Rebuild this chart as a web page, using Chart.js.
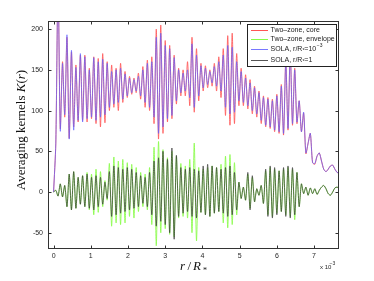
<!DOCTYPE html>
<html><head><meta charset="utf-8">
<script src="https://cdn.jsdelivr.net/npm/chart.js@4.4.1/dist/chart.umd.min.js"></script>
<style>html,body{margin:0;padding:0;background:#fff;overflow:hidden}canvas{display:block}</style>
</head><body>
<canvas id="c" width="374" height="281"></canvas>
<script>
// radius grid r/R* (x 10^-3)
const r = [0,0.06,0.12,0.18,0.24,0.30,0.36,0.42,0.48,0.54,
0.60,0.66,0.72,0.78,0.84,0.90,0.96,1.02,1.08,1.14,
1.20,1.26,1.32,1.38,1.44,1.50,1.56,1.62,1.68,1.74,
1.80,1.86,1.92,1.98,2.04,2.10,2.16,2.22,2.28,2.34,
2.40,2.46,2.52,2.58,2.64,2.70,2.76,2.82,2.88,2.94,
3.00,3.06,3.12,3.18,3.24,3.30,3.36,3.42,3.48,3.54,
3.60,3.66,3.72,3.78,3.84,3.90,3.96,4.02,4.08,4.14,
4.20,4.26,4.32,4.38,4.44,4.50,4.56,4.62,4.68,4.74,
4.80,4.86,4.92,4.98,5.04,5.10,5.16,5.22,5.28,5.34,
5.40,5.46,5.52,5.58,5.64,5.70,5.76,5.82,5.88,5.94,
6.00,6.06,6.12,6.18,6.24,6.30,6.36,6.42,6.48,6.54,
6.60,6.66,6.72,6.78,6.84,6.90,6.96,7.02,7.08,7.14,
7.20,7.26,7.32,7.38,7.44,7.50,7.56,7.62,7.68];

const twoZoneCore = [0,60,260,78,160,92,190,66,172,80,
156,86,168,88,168,86,152,90,166,84,
164,80,170,85,160,100,156,104,152,100,
158,110,148,116,142,120,140,122,146,114,
154,104,162,100,166,84,200,65,205,72,
186,86,180,90,168,108,152,118,150,118,
160,106,190,98,176,112,158,124,155,128,
150,130,158,124,166,116,176,94,192,82,
195,84,170,106,152,106,144,102,138,96,
130,92,124,84,118,80,116,78,114,74,
120,72,132,70,162,76,174,82,152,84,
112,74,97,47,60,72,36,34,44,48,
38,28,25,28,32,33,28,24,23];

const twoZoneEnvelope = [0,2,-5,10,-6,8,-18,22,-22,25,
-20,18,-15,20,-18,24,-22,22,-28,28,
-25,25,-18,14,-10,35,-42,43,-38,38,
-40,40,-38,36,-30,34,-32,30,-24,24,
-18,22,-22,30,-40,55,-66,62,-50,52,
-45,42,-52,50,-55,44,-32,35,-30,32,
-32,40,-50,60,-60,30,-25,28,-28,30,
-30,32,-26,30,-24,34,-38,44,-44,46,
-40,36,-28,12,-8,6,-10,22,-20,18,
-12,4,-4,8,-14,26,-28,30,-30,28,
-26,26,-24,28,-28,30,-30,28,-34,24,
-18,10,-2,6,-4,5,-2,4,-3,2,
6,8,4,-2,-4,0,5,6,4];

const solaCore = [0,60,260,75,158,95,193,65,174,76,
153,88,170,86,166,90,150,92,165,88,
160,92,163,95,158,104,148,108,150,110,
152,114,145,118,140,122,138,124,142,118,
150,110,158,104,160,92,190,72,195,80,
180,90,176,94,165,112,150,122,146,124,
150,116,182,104,168,118,155,128,152,132,
148,134,154,130,160,124,168,104,180,96,
178,98,160,112,148,110,140,106,134,100,
128,96,122,88,116,82,114,80,112,76,
118,74,130,72,160,78,172,84,150,86,
112,74,98,48,60,72,36,35,44,48,
38,28,25,28,32,33,28,24,23];

const solaSurface = [0,2,-5,10,-6,8,-18,22,-22,25,
-20,18,-15,20,-18,22,-20,18,-22,20,
-18,18,-15,12,-8,25,-30,32,-28,30,
-26,28,-24,30,-22,28,-20,24,-18,20,
-14,18,-18,24,-28,38,-42,42,-36,50,
-40,40,-50,54,-58,45,-30,30,-26,28,
-24,30,-30,28,-32,26,-25,32,-28,34,
-30,32,-26,30,-24,28,-26,30,-30,32,
-28,24,-22,12,-8,6,-10,24,-22,20,
-12,4,-4,8,-14,28,-30,32,-32,30,
-28,26,-24,30,-30,32,-32,30,-28,24,
-18,10,-2,6,-4,5,-2,4,-3,2,
6,8,4,-2,-4,0,5,6,4];

const xTicks = [0,1,2,3,4,5,6,7];
const yTicks = [-50,0,50,100,150,200];
const legendLabels = ['Two\u2013zone, core','Two\u2013zone, envelope','SOLA, r/R','SOLA, r/R'];

const cRed = 'rgb(255,85,85)';
const cGreen = 'rgb(135,252,70)';
const cBlue = 'rgba(95,95,255,0.85)';
const cBlack = 'rgba(55,55,55,0.85)';

function pts(arr){ return r.map((v,i)=>({x:v,y:arr[i]})); }

function line(ctx,x1,y1,x2,y2){ctx.beginPath();ctx.moveTo(x1,y1);ctx.lineTo(x2,y2);ctx.stroke();}

const deco = {
  id:'deco',
  afterDraw(chart){
    const ctx = chart.ctx, a = chart.chartArea, xs = chart.scales.x, ys = chart.scales.y;
    ctx.save();
    ctx.strokeStyle = '#333'; ctx.lineWidth = 1;
    const L = Math.round(a.left)+0.5, T = Math.round(a.top)+0.5, R = Math.round(a.right)-0.5, B = Math.round(a.bottom)-0.5;
    ctx.strokeRect(L,T,R-L,B-T);
    xTicks.forEach(v=>{const p=Math.round(xs.getPixelForValue(v))+0.5; line(ctx,p,B,p,B-3); line(ctx,p,T,p,T+3);});
    yTicks.forEach(v=>{const p=Math.round(ys.getPixelForValue(v))+0.5; line(ctx,L,p,L+3,p); line(ctx,R,p,R-3,p);});

    // legend
    const lx=247.5, ly=24.5, lw=89, lh=42;
    ctx.fillStyle='#fff'; ctx.fillRect(lx,ly,lw,lh);
    ctx.strokeStyle='#222'; ctx.strokeRect(lx,ly,lw,lh);
    const rows=[30,38.5,48.5,59.5], cols=[cRed,cGreen,cBlue,cBlack];
    ctx.textBaseline='middle'; ctx.textAlign='left';
    const fs='7px "Liberation Sans"', fss='5px "Liberation Sans"';
    rows.forEach((yy,i)=>{
      ctx.strokeStyle=cols[i]; ctx.lineWidth=1;
      line(ctx,251,Math.round(yy)+0.5,268,Math.round(yy)+0.5);
      ctx.fillStyle='#222';
      ctx.font=fs;
      let tx=270.5;
      ctx.fillText(legendLabels[i],tx,yy+0.5);
      if(i>=2){
        tx+=ctx.measureText(legendLabels[i]).width;
        ctx.font=fss;
        ctx.fillText('*',tx,yy+2.5); tx+=ctx.measureText('*').width;
        ctx.font=fs;
        const s = i===2 ? '=10' : '=1';
        ctx.fillText(s,tx,yy+0.5); tx+=ctx.measureText(s).width;
        if(i===2){ ctx.font=fss; ctx.fillText('\u22123',tx+0.5,yy-3); }
      }
    });

    // axis titles
    ctx.fillStyle='#111';
    ctx.save();
    ctx.translate(25,130); ctx.rotate(-Math.PI/2);
    ctx.textBaseline='alphabetic';
    const up='13px "Liberation Serif"', it='italic 13px "Liberation Serif"';
    const parts=[['Averaging kernels ',up],['K',it],['(',up],['r',it],[')',up]];
    let tot=0; parts.forEach(p=>{ctx.font=p[1]; p.push(ctx.measureText(p[0]).width); tot+=p[2];});
    let sx=-tot/2;
    parts.forEach(p=>{ctx.font=p[1]; ctx.fillText(p[0],sx,0); sx+=p[2];});
    ctx.restore();

    ctx.textBaseline='alphabetic';
    ctx.font='italic 13px "Liberation Serif"';
    ctx.fillText('r',180,270);
    ctx.font='13px "Liberation Serif"';
    ctx.fillText('/',187.5,270);
    ctx.font='italic 13px "Liberation Serif"';
    ctx.fillText('R',193,270);
    ctx.font='8px "Liberation Serif"';
    ctx.fillText('*',203,273);

    ctx.fillStyle='#262626';
    ctx.font='6px "Liberation Sans"';
    ctx.fillText('x 10',320,269);
    ctx.font='5px "Liberation Sans"';
    ctx.fillText('\u22123',329.5,265);
    ctx.restore();
  }
};

new Chart(document.getElementById('c'),{
  type:'line',
  data:{datasets:[
    {label:legendLabels[0],data:pts(twoZoneCore),borderColor:cRed,order:4},
    {label:legendLabels[1],data:pts(twoZoneEnvelope),borderColor:cGreen,order:3},
    {label:legendLabels[2],data:pts(solaCore),borderColor:cBlue,order:2},
    {label:legendLabels[3],data:pts(solaSurface),borderColor:cBlack,order:1}
  ]},
  options:{
    responsive:false, animation:false, devicePixelRatio:1,
    elements:{point:{radius:0},line:{borderWidth:0.85,tension:0.25}},
    layout:{padding:{left:0,top:21,right:35,bottom:0}},
    plugins:{legend:{display:false},tooltip:{enabled:false}},
    scales:{
      x:{type:'linear',min:-0.15,max:7.67,
        afterFit(s){s.height=32;},
        afterBuildTicks(s){s.ticks=xTicks.map(v=>({value:v}));},
        grid:{display:false,drawTicks:false},border:{display:false},
        ticks:{padding:3,maxRotation:0,autoSkip:false,color:'#262626',font:{family:'Liberation Sans',size:7}}},
      y:{type:'linear',min:-70,max:210,
        afterFit(s){s.width=48;},
        afterBuildTicks(s){s.ticks=yTicks.map(v=>({value:v}));},
        grid:{display:false,drawTicks:false},border:{display:false},
        ticks:{padding:5,autoSkip:false,color:'#262626',font:{family:'Liberation Sans',size:7}}}
    }
  },
  plugins:[deco]
});
</script>
</body></html>
